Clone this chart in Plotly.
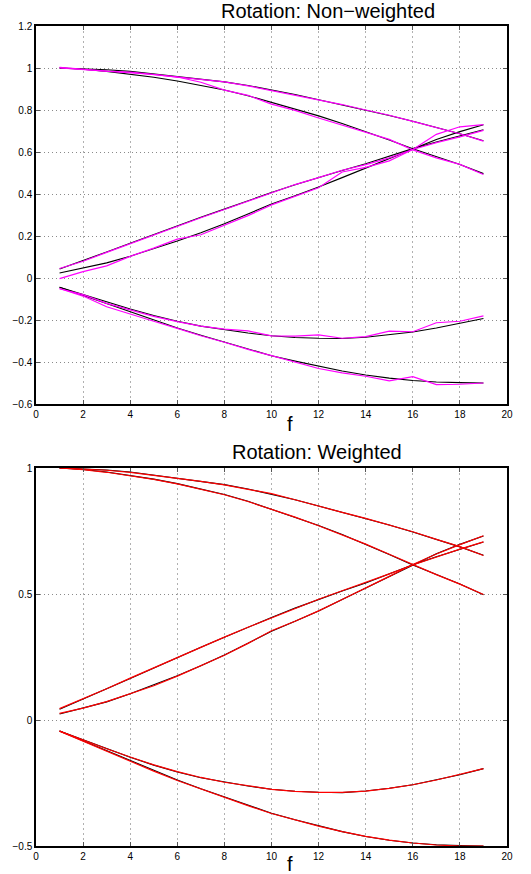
import plotly.graph_objects as go

f_vals = list(range(1, 20))

# true (black) curves
A_true = [1.000, 0.997, 0.992, 0.984, 0.972, 0.960, 0.948, 0.934, 0.917, 0.897, 0.874, 0.849, 0.825, 0.800, 0.774, 0.746, 0.718, 0.687, 0.654]
B_true = [1.000, 0.994, 0.984, 0.971, 0.956, 0.938, 0.918, 0.895, 0.868, 0.836, 0.805, 0.772, 0.736, 0.698, 0.657, 0.615, 0.578, 0.540, 0.497]
C_true = [0.043, 0.082, 0.124, 0.165, 0.207, 0.249, 0.289, 0.328, 0.368, 0.407, 0.444, 0.479, 0.512, 0.544, 0.580, 0.616, 0.648, 0.677, 0.706]
D_true = [0.024, 0.047, 0.072, 0.104, 0.139, 0.176, 0.215, 0.258, 0.305, 0.352, 0.392, 0.433, 0.478, 0.524, 0.570, 0.616, 0.660, 0.697, 0.730]
E_true = [-0.044, -0.079, -0.115, -0.148, -0.179, -0.206, -0.229, -0.247, -0.262, -0.275, -0.283, -0.287, -0.288, -0.282, -0.271, -0.257, -0.238, -0.217, -0.193]
F_true = [-0.044, -0.083, -0.124, -0.163, -0.201, -0.238, -0.273, -0.306, -0.339, -0.370, -0.396, -0.421, -0.443, -0.462, -0.477, -0.488, -0.495, -0.498, -0.500]

# non-weighted estimates (magenta)
A_nw = [1.003, 0.993, 0.985, 0.980, 0.969, 0.958, 0.944, 0.934, 0.915, 0.893, 0.872, 0.849, 0.826, 0.800, 0.775, 0.746, 0.716, 0.687, 0.652]
B_nw = [1.000, 0.992, 0.983, 0.978, 0.969, 0.957, 0.932, 0.895, 0.870, 0.828, 0.798, 0.762, 0.728, 0.697, 0.660, 0.610, 0.572, 0.541, 0.493]
C_nw = [0.045, 0.080, 0.122, 0.163, 0.205, 0.248, 0.287, 0.326, 0.366, 0.407, 0.445, 0.478, 0.513, 0.540, 0.572, 0.612, 0.645, 0.672, 0.703]
D_nw = [-0.003, 0.030, 0.058, 0.103, 0.142, 0.185, 0.206, 0.251, 0.297, 0.348, 0.390, 0.430, 0.505, 0.527, 0.558, 0.612, 0.684, 0.720, 0.730]
E_nw = [-0.051, -0.079, -0.121, -0.151, -0.183, -0.208, -0.229, -0.243, -0.252, -0.276, -0.277, -0.271, -0.287, -0.279, -0.253, -0.256, -0.213, -0.206, -0.180]
F_nw = [-0.050, -0.086, -0.137, -0.170, -0.206, -0.240, -0.275, -0.306, -0.340, -0.370, -0.399, -0.431, -0.452, -0.468, -0.490, -0.470, -0.508, -0.506, -0.500]

# weighted estimates (red)
A_w = [1.000, 0.996, 0.991, 0.983, 0.972, 0.961, 0.947, 0.933, 0.917, 0.898, 0.874, 0.848, 0.824, 0.800, 0.775, 0.747, 0.717, 0.688, 0.653]
B_w = [1.000, 0.993, 0.983, 0.970, 0.955, 0.937, 0.917, 0.894, 0.867, 0.837, 0.805, 0.771, 0.735, 0.698, 0.658, 0.616, 0.577, 0.539, 0.498]
C_w = [0.045, 0.083, 0.124, 0.166, 0.207, 0.249, 0.289, 0.329, 0.368, 0.406, 0.443, 0.479, 0.513, 0.545, 0.580, 0.615, 0.647, 0.678, 0.707]
D_w = [0.026, 0.047, 0.073, 0.106, 0.136, 0.174, 0.214, 0.257, 0.304, 0.354, 0.392, 0.433, 0.478, 0.523, 0.570, 0.617, 0.659, 0.696, 0.731]
E_w = [-0.044, -0.080, -0.114, -0.147, -0.178, -0.205, -0.228, -0.247, -0.262, -0.275, -0.283, -0.287, -0.287, -0.282, -0.271, -0.257, -0.238, -0.216, -0.193]
F_w = [-0.044, -0.084, -0.125, -0.165, -0.203, -0.240, -0.274, -0.307, -0.340, -0.371, -0.397, -0.421, -0.443, -0.462, -0.477, -0.488, -0.496, -0.500, -0.500]

x_ticks = list(range(0, 21, 2))
x_tick_labels = [str(v) for v in x_ticks]
y_top_ticks = [-0.6, -0.4, -0.2, 0, 0.2, 0.4, 0.6, 0.8, 1.0, 1.2]
y_top_labels = ["\u22120.6", "\u22120.4", "\u22120.2", "0", "0.2", "0.4", "0.6", "0.8", "1", "1.2"]
y_bot_ticks = [-0.5, 0, 0.5, 1.0]
y_bot_labels = ["\u22120.5", "0", "0.5", "1"]

title_top = "Rotation: Non\u2212weighted"
title_bot = "Rotation: Weighted"
x_label = "f"

FONT = "Liberation Sans, Arial, Helvetica, sans-serif"

fig = go.Figure()

true_curves = [A_true, B_true, C_true, D_true, E_true, F_true]
nw_curves = [A_nw, B_nw, C_nw, D_nw, E_nw, F_nw]
w_curves = [A_w, B_w, C_w, D_w, E_w, F_w]

for ys in true_curves:
    fig.add_trace(go.Scatter(x=f_vals, y=ys, mode="lines", line=dict(color="#000000", width=1.1),
                             xaxis="x", yaxis="y", showlegend=False, hoverinfo="skip"))
for ys in nw_curves:
    fig.add_trace(go.Scatter(x=f_vals, y=ys, mode="lines", line=dict(color="#ff00ff", width=1.2),
                             xaxis="x", yaxis="y", showlegend=False, hoverinfo="skip"))
for ys in true_curves:
    fig.add_trace(go.Scatter(x=f_vals, y=ys, mode="lines", line=dict(color="#000000", width=1.1),
                             xaxis="x2", yaxis="y2", showlegend=False, hoverinfo="skip"))
for ys in w_curves:
    fig.add_trace(go.Scatter(x=f_vals, y=ys, mode="lines", line=dict(color="#ff0000", width=1.2),
                             xaxis="x2", yaxis="y2", showlegend=False, hoverinfo="skip"))

common_x = dict(range=[0, 20], tickvals=x_ticks, ticktext=x_tick_labels, showgrid=True,
                gridcolor="#b0b0b0", griddash="2px,3px", gridwidth=1, zeroline=False,
                showline=True, linecolor="#000000", linewidth=1.5, mirror="ticks",
                ticks="inside", ticklen=4, tickcolor="#555555",
                tickfont=dict(family=FONT, size=10, color="#000000"))
common_y = dict(showgrid=True, gridcolor="#8a8a8a", griddash="1px,3px", gridwidth=1, zeroline=False,
                showline=True, linecolor="#000000", linewidth=1.5, mirror="ticks",
                ticks="inside", ticklen=4, tickcolor="#555555",
                tickfont=dict(family=FONT, size=10, color="#000000"))

H_top = 378 / 820
fig.update_layout(
    width=531, height=874,
    margin=dict(l=34, r=24, t=26, b=28),
    paper_bgcolor="white", plot_bgcolor="white",
    font=dict(family=FONT, color="#000000"),
    xaxis=dict(domain=[0, 1], anchor="y", **common_x),
    yaxis=dict(domain=[1 - H_top, 1], anchor="x", range=[-0.6, 1.2],
               tickvals=y_top_ticks, ticktext=y_top_labels, **common_y),
    xaxis2=dict(domain=[0, 1], anchor="y2", **common_x),
    yaxis2=dict(domain=[0, H_top], anchor="x2", range=[-0.5, 1.0],
                tickvals=y_bot_ticks, ticktext=y_bot_labels, **common_y),
    annotations=[
        dict(text=title_top, xref="paper", yref="paper", x=0.620, y=1.0187,
             xanchor="center", yanchor="middle", showarrow=False,
             font=dict(family=FONT, size=20, color="#000000")),
        dict(text=title_bot, xref="paper", yref="paper", x=0.596, y=0.4807,
             xanchor="center", yanchor="middle", showarrow=False,
             font=dict(family=FONT, size=20, color="#000000")),
        dict(text=x_label, xref="paper", yref="paper", x=0.5387, y=0.5146,
             xanchor="center", yanchor="middle", showarrow=False,
             font=dict(family=FONT, size=20, color="#000000")),
        dict(text=x_label, xref="paper", yref="paper", x=0.5387, y=-0.0215,
             xanchor="center", yanchor="middle", showarrow=False,
             font=dict(family=FONT, size=20, color="#000000")),
    ],
)

fig.write_html("out.html",
               config={"displayModeBar": False},
               post_script="document.body.style.margin='0px';document.body.style.overflow='hidden';")
